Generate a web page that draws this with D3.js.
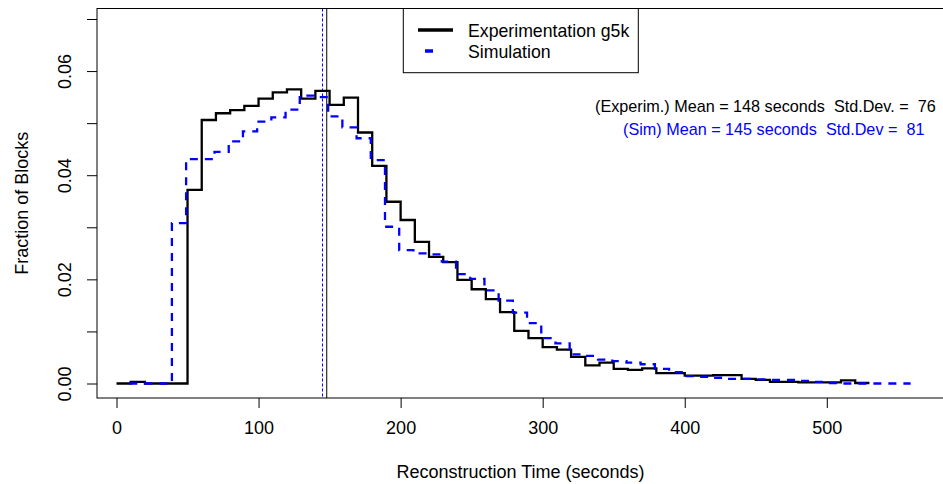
<!DOCTYPE html>
<html><head><meta charset="utf-8">
<script src="https://cdn.jsdelivr.net/npm/d3@7"></script>
<style>body{margin:0;background:#fff}svg{display:block;font-family:"Liberation Sans",Arial,sans-serif}text{white-space:pre}</style>
</head><body><svg id="c" width="943" height="484"></svg>
<script>
// ---- data ----
const expBreaks = d3.range(0, 531, 10);            // 0,10,...,530
const expValues = [0,0.0003,0,0,0,0.0372,0.0506,0.0519,0.0525,0.0533,
  0.0547,0.0559,0.0565,0.0547,0.0562,0.0535,0.0549,0.0482,0.0418,0.0349,
  0.0314,0.0272,0.0243,0.0233,0.0199,0.0181,0.0162,0.0137,0.0101,0.0087,
  0.0070,0.0065,0.0051,0.0035,0.0040,0.0028,0.0026,0.0029,0.0020,0.0020,
  0.0015,0.0015,0.0016,0.0016,0.0009,0.0007,0.0003,0.0003,0.0002,0.0002,
  0.0002,0.0006,0.0001,0.0001];
const simBreaks = d3.range(9, 560, 10);            // 9,19,...,559
const simValues = [0,0,0,0.0308,0.0431,0.0431,0.0445,0.0465,0.0484,0.0503,
  0.0511,0.0526,0.0553,0.0550,0.0513,0.0492,0.0471,0.0429,0.0301,0.0256,
  0.0250,0.0248,0.0234,0.0210,0.0201,0.0179,0.0159,0.0136,0.0116,0.0087,
  0.0077,0.0056,0.0053,0.0046,0.0043,0.0040,0.0037,0.0028,0.0022,0.0014,
  0.0013,0.0011,0.0009,0.0009,0.0008,0.0007,0.0007,0.0005,0.0003,0.0001,
  0,0,0,0,0,0];
const expMean = 148, expSd = 76, simMean = 145, simSd = 81;
const xTicks = [0,100,200,300,400,500];
const yTicks = [0,0.01,0.02,0.03,0.04,0.05,0.06,0.07];
const yLabels = [0,0.02,0.04,0.06];
const seriesNames = ["Experimentation g5k","Simulation"];
const annotations = [
  "(Experim.) Mean = " + expMean + " seconds  Std.Dev. =  " + expSd,
  "(Sim) Mean = " + simMean + " seconds  Std.Dev =  " + simSd
];

// ---- layout ----
const L = 97, R = 944, T = 8.5, B = 398;
const svg = d3.select("#c");
const x = d3.scaleLinear().domain([0, 500]).range([116.5, 826.8]);
const y = d3.scaleLinear().domain([0, 0.07]).range([383.5, 19]);

svg.append("clipPath").attr("id","clip").append("rect")
  .attr("x",L).attr("y",T).attr("width",R-L).attr("height",B-T);

const g = svg.append("g").attr("clip-path","url(#clip)");
const line = d3.line().curve(d3.curveStepAfter).x(d=>x(d[0])).y(d=>y(d[1]));

// mean lines
g.append("line").attr("x1",x(simMean)).attr("x2",x(simMean)).attr("y1",T).attr("y2",B)
  .attr("stroke","#0000ff").attr("stroke-width",1).attr("stroke-dasharray","3,2");
g.append("line").attr("x1",x(expMean)).attr("x2",x(expMean)).attr("y1",T).attr("y2",B)
  .attr("stroke","#000").attr("stroke-width",1);

g.append("path").datum(expBreaks.map((b,i)=>[b,expValues[i]]))
  .attr("d",line).attr("fill","none").attr("stroke","#000").attr("stroke-width",2.3);
g.append("path").datum(simBreaks.map((b,i)=>[b,simValues[i]]))
  .attr("d",line).attr("fill","none").attr("stroke","#0000ff").attr("stroke-width",2.3)
  .attr("stroke-dasharray","8,7");

// box
svg.append("rect").attr("x",L).attr("y",T).attr("width",R-L).attr("height",B-T)
  .attr("fill","none").attr("stroke","#000").attr("stroke-width",1);

// x axis
const xa = svg.append("g").attr("transform",`translate(0,${B})`)
  .call(d3.axisBottom(x).tickValues(xTicks).tickSize(10).tickPadding(13).tickFormat(d3.format("d")));
xa.select(".domain").remove();
xa.selectAll("text").attr("font-size",18).attr("font-family","Liberation Sans, Arial").attr("fill","#000");

// y axis
const ya = svg.append("g").attr("transform",`translate(${L},0)`)
  .call(d3.axisLeft(y).tickValues(yTicks).tickSize(10).tickFormat(d => yLabels.some(v=>Math.abs(v-d)<1e-9) ? d3.format(".2f")(d) : ""));
ya.select(".domain").remove();
ya.selectAll("text").attr("font-size",18).attr("font-family","Liberation Sans, Arial").attr("fill","#000")
  .attr("text-anchor","middle").attr("x",null).attr("dy",null)
  .attr("transform","translate(-26,0) rotate(-90)").attr("y",0);

// axis titles
svg.append("text").attr("x",(L+R)/2).attr("y",478).attr("text-anchor","middle")
  .attr("font-size",18).text("Reconstruction Time (seconds)");
svg.append("text").attr("transform",`translate(28,${(T+B)/2}) rotate(-90)`).attr("text-anchor","middle")
  .attr("font-size",18).text("Fraction of Blocks");

// legend
const lg = svg.append("g");
lg.append("rect").attr("x",403.3).attr("y",T).attr("width",235).attr("height",64.2)
  .attr("fill","#fff").attr("stroke","#000").attr("stroke-width",1);
lg.append("line").attr("x1",418).attr("x2",453).attr("y1",30).attr("y2",30)
  .attr("stroke","#000").attr("stroke-width",3.5);
lg.append("line").attr("x1",425).attr("x2",433).attr("y1",51).attr("y2",51)
  .attr("stroke","#0000ff").attr("stroke-width",3.5);
lg.append("text").attr("x",468).attr("y",36.5).attr("font-size",17.7).text(seriesNames[0]);
lg.append("text").attr("x",468).attr("y",57.5).attr("font-size",17.7).text(seriesNames[1]);

// annotations
svg.append("text").attr("x",595).attr("y",112).attr("font-size",16.2).attr("fill","#000")
  .attr("xml:space","preserve").text(annotations[0]);
svg.append("text").attr("x",623).attr("y",135).attr("font-size",16.2).attr("fill","#0000ff")
  .attr("xml:space","preserve").text(annotations[1]);
</script></body></html>
